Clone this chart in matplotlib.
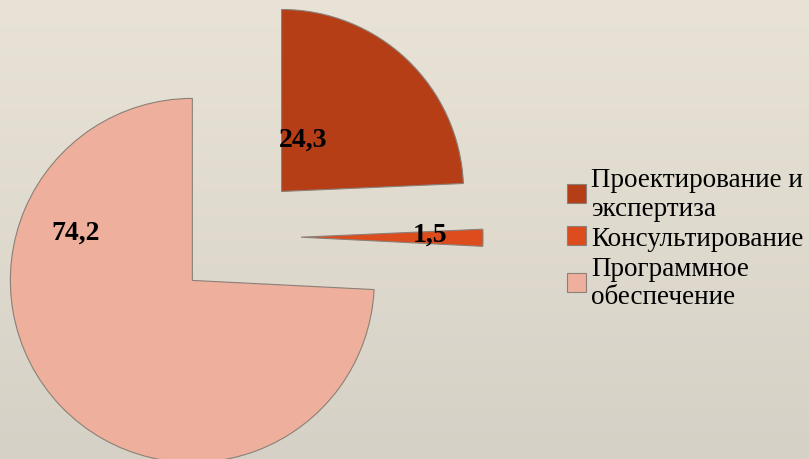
import numpy as np
import matplotlib
matplotlib.use('Agg')
import matplotlib.pyplot as plt
from matplotlib.colors import LinearSegmentedColormap

# values
categories = ['Проектирование и\nэкспертиза', 'Консультирование', 'Программное\nобеспечение']
values = [24.3, 1.5, 74.2]
value_labels = ['24,3', '1,5', '74,2']
colors = ['#b53e16', '#dc4c1c', '#eeb09c']

plt.rcParams['font.family'] = ['Liberation Serif', 'DejaVu Serif']

W, H = 809, 460
fig = plt.figure(figsize=(W / 100, H / 100), dpi=100)

# background gradient
bg = fig.add_axes([0, 0, 1, 1])
grad = np.linspace(0, 1, 256).reshape(-1, 1)
cmap = LinearSegmentedColormap.from_list('bg', ['#e9e3d7', '#d6d1c6'])
bg.imshow(grad, aspect='auto', cmap=cmap, extent=[0, 1, 0, 1], origin='upper')
bg.axis('off')

ax = fig.add_axes([0, 0, 1, 1])
ax.patch.set_alpha(0)

radius = 182
center = (238, H - 238)
wedges, _ = ax.pie(values, colors=colors, startangle=90, counterclock=False,
                   radius=radius, center=center, explode=[63, 63, 63],
                   wedgeprops=dict(edgecolor='#8a8077', linewidth=0.8))

# label offsets from each wedge's apex (pixels)
label_offsets = [(22, 52), (129, 3), (-117, 48)]
for w, lab, (dx, dy) in zip(wedges, value_labels, label_offsets):
    cx, cy = w.center
    ax.text(cx + dx, cy + dy, lab, ha='center', va='center',
            fontsize=20, fontweight='bold', color='black')

ax.set_xlim(0, W)
ax.set_ylim(0, H)
ax.axis('off')

leg = ax.legend(wedges, categories, loc='upper left',
                bbox_to_anchor=(567 / W, 1 - 168 / H), frameon=False,
                fontsize=19.5, borderpad=0, borderaxespad=0,
                handlelength=0.7, handleheight=0.7, handletextpad=0.2,
                labelspacing=0.18)
for h in leg.legend_handles:
    h.set_edgecolor('#8a8077')

fig.savefig('out.png', dpi=100)
